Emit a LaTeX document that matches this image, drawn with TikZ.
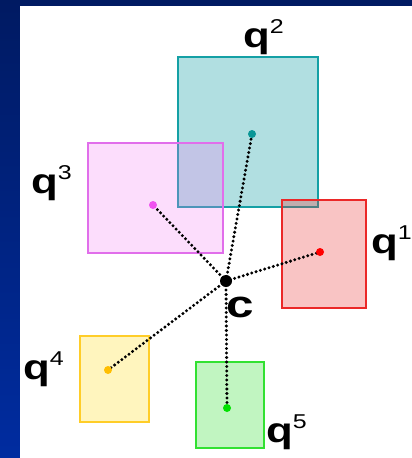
\documentclass[tikz,border=0pt]{standalone}
\usepackage{fontspec}
\setmainfont{Liberation Sans}
\begin{document}
\begin{tikzpicture}[x=1pt,y=-1pt,
  region/.style={draw=#1, line width=1.4pt, fill=#1, fill opacity=0.3, inner sep=0pt, outer sep=0pt},
  centre/.style={circle, fill=#1, inner sep=0pt, minimum size=8pt},
  link/.style={draw=black, line width=3.3pt, line cap=round, dash pattern=on 0pt off 4.5pt},
  tag/.style={anchor=base west, inner sep=0pt, font=\fontsize{35}{35}\selectfont\bfseries}]
\definecolor{bgtop}{RGB}{0,26,98}
\definecolor{bgbot}{RGB}{0,44,160}
\definecolor{tealc}{RGB}{20,160,165}
\definecolor{magc}{RGB}{225,110,235}
\definecolor{magfill}{RGB}{245,120,245}
\definecolor{redc}{RGB}{235,40,40}
\definecolor{yelc}{RGB}{255,225,40}
\definecolor{yelline}{RGB}{255,205,40}
\definecolor{grnc}{RGB}{50,225,50}
\definecolor{tealdot}{RGB}{10,150,150}
\definecolor{magdot}{RGB}{240,80,240}
\definecolor{yeldot}{RGB}{255,190,0}
\definecolor{grndot}{RGB}{0,225,0}
% wide glyphs with a raised index
\newcommand{\qlabel}[1]{\scalebox{1.25}[1]{q\raisebox{14pt}{\fontsize{20}{20}\selectfont\mdseries #1}}}

\useasboundingbox (0,0) rectangle (412,458);
% backdrop and white panel
\shade[top color=bgtop, bottom color=bgbot] (0,0) rectangle (412,458);
\fill[white] (20,6) rectangle (412,458);

% regions around each point
\node[region=tealc, fill opacity=0.33, minimum width=140pt, minimum height=150pt] (b2) at (248,132) {};
\node[region=magc, fill=magfill, fill opacity=0.25, minimum width=135pt, minimum height=110pt] (b3) at (155.5,198) {};
\node[region=redc, fill opacity=0.27, minimum width=84pt,  minimum height=108pt] (b1) at (324,254) {};
\node[region=yelc, draw=yelline, minimum width=69pt,  minimum height=86pt]  (b4) at (114.5,379) {};
\node[region=grnc,  minimum width=68pt,  minimum height=86pt]  (b5) at (230,405) {};

% points
\coordinate (p2) at (252,134);
\coordinate (p3) at (153,205);
\coordinate (p1) at (320,252);
\coordinate (p4) at (108,370);
\coordinate (p5) at (227,408);
\coordinate (c) at (226,281);

% links from c to each point
\path[link] (c) -- (p1);
\path[link] (c) -- (p2);
\path[link] (c) -- (p3);
\path[link] (c) -- (p4);
\path[link] (c) -- (p5);

% point markers
\node[circle, fill=black, inner sep=0pt, minimum size=12pt] (cdot) at (c) {};
\node[centre=red]     (d1) at (p1) {};
\node[centre=tealdot] (d2) at (p2) {};
\node[centre=magdot]  (d3) at (p3) {};
\node[centre=yeldot]  (d4) at (p4) {};
\node[centre=grndot]  (d5) at (p5) {};

% labels
\node[tag] (l2) at (243,47)  {\qlabel{2}};
\node[tag] (l3) at (31,193)  {\qlabel{3}};
\node[tag] (l1) at (371,253) {\qlabel{1}};
\node[tag] (l4) at (23,379)  {\qlabel{4}};
\node[tag] (l5) at (266,442) {\qlabel{5}};
\node[tag, font=\fontsize{38}{38}\selectfont\bfseries] (lc) at (226,317) {\scalebox{1.3}[1]{c}};
\end{tikzpicture}
\end{document}
